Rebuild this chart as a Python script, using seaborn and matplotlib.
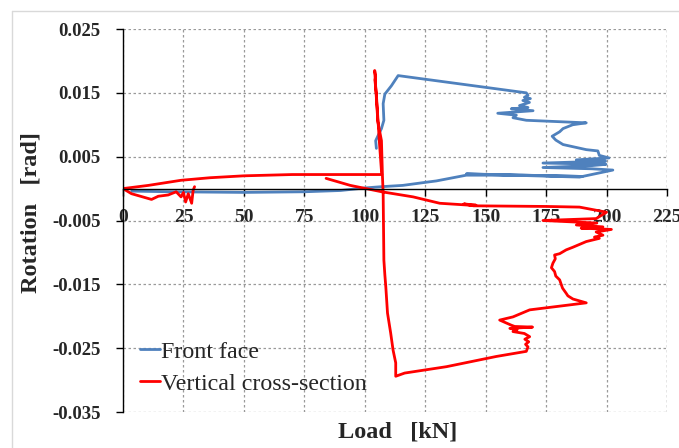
import numpy as np
import pandas as pd
import seaborn as sns
import matplotlib
matplotlib.use("Agg")
import matplotlib.pyplot as plt
from matplotlib.lines import Line2D

# Front face: load [kN] and rotation [rad], in drawing order
front_load = [3.6, 20, 50, 75, 90, 100, 107, 115.7, 125.5, 129.6, 142, 165, 190,
              142, 188.8, 202.6, 194, 173.7, 194, 199.8, 173.7, 199.6, 187.5, 201,
              197, 196.4, 191.6, 182, 179, 177.5, 180.6, 182, 186, 191.6, 166.8,
              161.3, 162.7, 155, 169.6, 160.6, 167.5, 164, 168.1, 165.4, 168.5,
              166, 167.5, 166.8, 113.8, 111, 108.3, 107.6, 107.9, 106.9, 105.5,
              104.5, 104.8]
front_rot = [-0.0004, -0.0005, -0.0006, -0.0005, -0.0003, 0.0001, 0.0003, 0.0005,
             0.0010, 0.0012, 0.0021, 0.0021, 0.0019, 0.0023, 0.0018, 0.0029, 0.0031,
             0.0033, 0.0036, 0.0038, 0.0040, 0.0043, 0.0045, 0.0048, 0.0052, 0.0059,
             0.0061, 0.0069, 0.0076, 0.0082, 0.0089, 0.0094, 0.0100, 0.0103, 0.0107,
             0.0111, 0.0115, 0.0118, 0.0122, 0.0125, 0.0127, 0.0130, 0.0135, 0.0138,
             0.0141, 0.0143, 0.0146, 0.0150, 0.0177, 0.0161, 0.0148, 0.0133, 0.0107,
             0.0094, 0.0083, 0.0075, 0.0063]

# Vertical cross-section
vert_load = [29.6, 29.0, 28.4, 27.0, 25.9, 25.0, 24.0, 22.0, 18.7, 14.6, 11.8, 3.5,
             0.0, 10.5, 24.0, 36.0, 50.0, 70.0, 90.0, 107.0, 106.0, 104.8, 104.2,
             104.5, 104.1, 105.4, 106.9, 107.3, 107.6, 107.9, 108.3, 108.7, 109.4,
             110.7, 111.7, 112.8, 112.8, 116.5, 133.8, 154.4, 166.8, 167.5, 166.5,
             167.8, 166.2, 168.2, 166.0, 161.3, 163.0, 160.0, 169.4, 162.0, 160.6,
             155.8, 161.3, 168.2, 191.6, 186.1, 184.0, 183.3, 181.8, 180.6, 179.0,
             178.5, 177.2, 177.8, 178.8, 178.5, 180.6, 183.3, 186.0, 191.6, 197.0,
             195.0, 198.5, 195.7, 202.0, 189.5, 198.5, 187.5, 196.0, 173.7, 195.7,
             200.0, 188.8, 175.0, 145.0, 141.0, 146.0, 143.4, 131.0, 120.0, 107.0,
             94.0, 84.0]
vert_rot = [0.0003, -0.0003, -0.0023, -0.0008, -0.0021, -0.0006, -0.0013, -0.0005,
            -0.0010, -0.0012, -0.0017, -0.0008, 0.0, 0.0005, 0.0013, 0.0017, 0.0020,
            0.0022, 0.0022, 0.0022, 0.0075, 0.0147, 0.0170, 0.0175, 0.0185, 0.0105,
            0.0075, 0.0021, -0.0008, -0.0112, -0.0135, -0.0154, -0.0195, -0.0226,
            -0.0253, -0.0273, -0.0294, -0.0289, -0.0279, -0.0263, -0.0255, -0.0248,
            -0.0244, -0.0240, -0.0236, -0.0232, -0.0227, -0.0224, -0.0221, -0.0219,
            -0.0217, -0.0216, -0.0214, -0.0206, -0.0201, -0.0190, -0.0179, -0.0173,
            -0.0168, -0.0164, -0.0156, -0.0143, -0.0137, -0.0130, -0.0124, -0.0117,
            -0.0110, -0.0104, -0.0102, -0.0096, -0.0092, -0.0083, -0.0078, -0.0076,
            -0.0073, -0.0068, -0.0064, -0.0062, -0.0060, -0.0057, -0.0054, -0.0050,
            -0.0047, -0.0037, -0.0029, -0.0028, -0.0027, -0.0024, -0.0026, -0.0026,
            -0.0023, -0.0013, -0.0005, 0.0005, 0.0016]

series_names = ["Front face", "Vertical cross-section"]
colors = ["#4f81bd", "#ff0000"]
x_ticks = [0, 25, 50, 75, 100, 125, 150, 175, 200, 225]
y_ticks = [0.025, 0.015, 0.005, -0.005, -0.015, -0.025, -0.035]

df = pd.concat([
    pd.DataFrame({"load": front_load, "rot": front_rot, "series": series_names[0]}),
    pd.DataFrame({"load": vert_load, "rot": vert_rot, "series": series_names[1]}),
], ignore_index=True)

sns.set_theme(style="white")
plt.rcParams["font.family"] = ["Liberation Serif", "DejaVu Serif"]
plt.rcParams["axes.unicode_minus"] = False

fig = plt.figure(figsize=(6.79, 4.48), dpi=100)
ax = fig.add_axes([123 / 679, 1 - 412 / 448, (667 - 123) / 679, (412 - 29) / 448])

sns.lineplot(data=df, x="load", y="rot", hue="series", palette=colors,
             sort=False, estimator=None, linewidth=2.0, ax=ax, legend=False)

# axis line through zero first (this resets the tick styling)
ax.spines["top"].set_visible(False)
ax.spines["right"].set_visible(False)
ax.spines["bottom"].set_position(("data", 0))
for s in ["left", "bottom"]:
    ax.spines[s].set_color("black")
    ax.spines[s].set_linewidth(1.0)

ax.set_xlim(0, 225)
ax.set_ylim(-0.035, 0.025)
ax.set_xticks(x_ticks)
ax.set_yticks(y_ticks)
ax.set_xticklabels([str(t) for t in x_ticks], fontsize=14, fontweight="bold")
ax.set_yticklabels([f"{t:.3f}" for t in y_ticks], fontsize=13.5, fontweight="bold")
ax.tick_params(axis="both", direction="out", length=5, width=1, color="black",
               left=True, bottom=True)
ax.tick_params(axis="x", pad=10)
ax.tick_params(axis="y", pad=11)

ax.grid(True, color="#9a9a9a", linestyle=(0, (2, 2)), linewidth=0.9)
ax.set_axisbelow(True)
# right gridline at the x-limit
ax.axvline(225, color="#9a9a9a", linestyle=(0, (2, 2)), linewidth=0.9, zorder=0.5)

ax.set_xlabel("Load   [kN]", fontsize=17.5, fontweight="bold")
ax.xaxis.set_label_coords(0.505, -0.026)
ax.set_ylabel("Rotation   [rad]", fontsize=17.5, fontweight="bold")
ax.yaxis.set_label_coords(-0.15, 0.52)

handles = [Line2D([0], [0], color=c, lw=2.0) for c in colors]
ax.legend(handles, series_names, loc="lower left", bbox_to_anchor=(0.031, 0.045),
          frameon=False, fontsize=17.3, handlelength=0.85, handletextpad=0.05,
          labelspacing=0.42, borderaxespad=0, borderpad=0)

# light chart-area border (top and left edges)
fig.add_artist(Line2D([12 / 679, 1], [1 - 11 / 448, 1 - 11 / 448], color="#d9d9d9", lw=1))
fig.add_artist(Line2D([12 / 679, 12 / 679], [0, 1 - 11 / 448], color="#d9d9d9", lw=1))

fig.savefig("out.png", dpi=100)
